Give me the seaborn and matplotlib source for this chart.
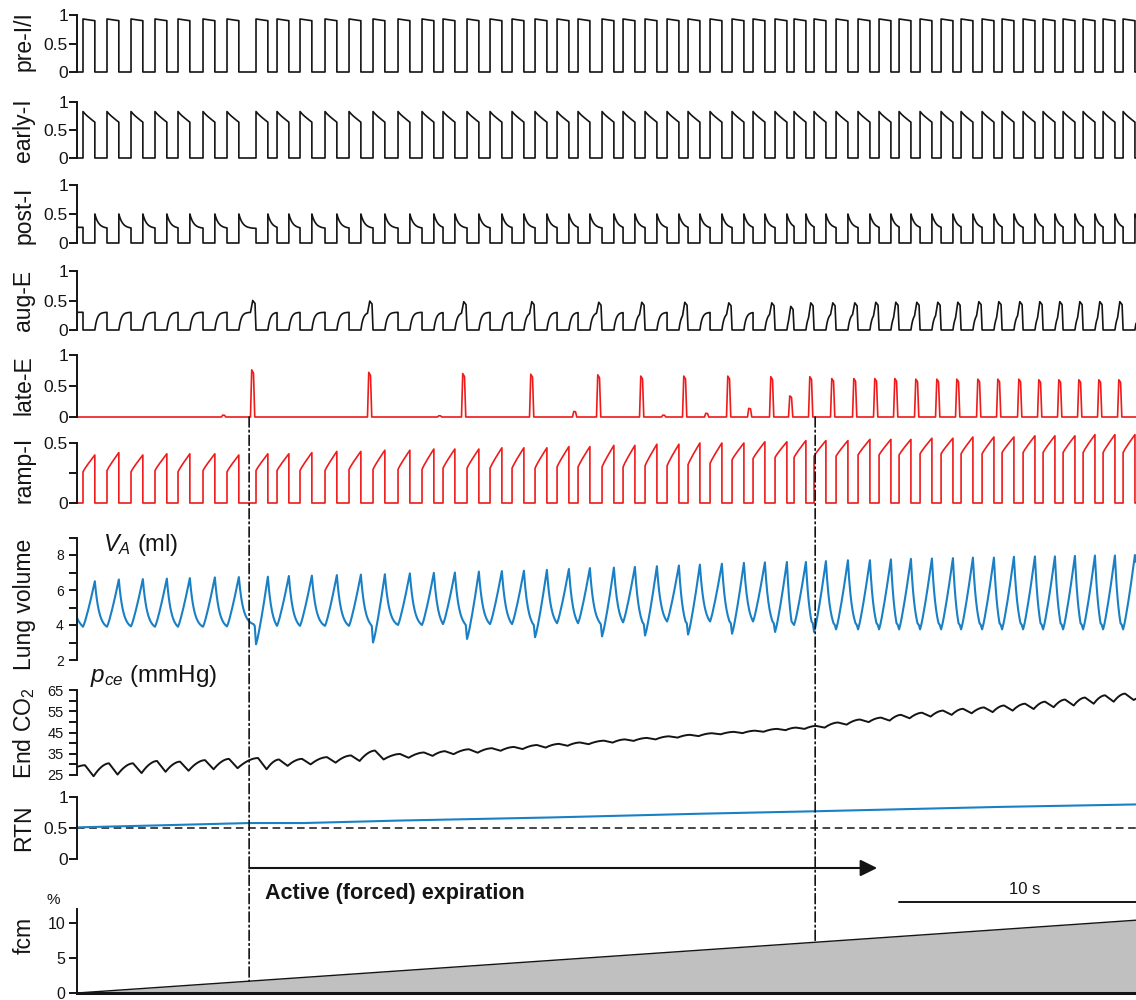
import numpy as np
import matplotlib
matplotlib.use("Agg")
import matplotlib.pyplot as plt
import seaborn as sns
from matplotlib.patches import ConnectionPatch

sns.set_theme(style="white")
plt.rcParams["font.family"] = ["Liberation Sans", "DejaVu Sans"]
plt.rcParams["mathtext.fontset"] = "custom"
plt.rcParams["mathtext.rm"] = "Liberation Sans"
plt.rcParams["mathtext.it"] = "Liberation Sans:italic"
plt.rcParams["mathtext.bf"] = "Liberation Sans:bold"

# ---------------- data (time in s) ----------------
ONSETS = [0.238, 1.190, 2.143, 3.095, 4.008, 5.000, 5.952, 7.103, 7.937, 8.849,
          9.841, 10.794, 11.746, 12.738, 13.690, 14.524, 15.476, 16.389, 17.262, 18.175,
          19.048, 19.881, 20.833, 21.667, 22.540, 23.413, 24.246, 25.119, 25.992, 26.825,
          27.698, 28.452, 29.246, 30.119, 30.992, 31.825, 32.619, 33.452, 34.286, 35.079,
          35.913, 36.706, 37.540, 38.333, 39.127, 39.921, 40.714, 41.508]
TI = 0.47
T_END = 42.02

PRE_I_LEVEL = (0.93, 0.90)
EARLY_I_LEVEL = (0.83, 0.64)
POST_I_LEVEL = (0.50, 0.25)
AUG_E_TOP = 0.30

LATE_E_AMP = [0, 0, 0, 0, 0, 0, 0.03, 0.76, 0, 0,
              0, 0, 0.72, 0, 0, 0.02, 0.70, 0, 0, 0.69,
              0, 0.09, 0.68, 0, 0.66, 0.03, 0.66, 0.06, 0.66, 0.14,
              0.65, 0.34, 0.65, 0.62, 0.62, 0.62, 0.62, 0.61, 0.61, 0.61,
              0.61, 0.61, 0.61, 0.60, 0.60, 0.60, 0.60, 0.60]
AUG_E_BUMP = [0, 0, 0, 0, 0, 0, 0, 0.50, 0, 0,
              0, 0, 0.49, 0, 0, 0, 0.48, 0, 0, 0.48,
              0, 0, 0.47, 0, 0.47, 0, 0.47, 0, 0.46, 0,
              0.46, 0.40, 0.46, 0.46, 0.46, 0.47, 0.47, 0.47, 0.47, 0.47,
              0.48, 0.48, 0.48, 0.48, 0.48, 0.48, 0.48, 0.48]
RAMP_START = [0.26, 0.27, 0.26, 0.27, 0.26, 0.27, 0.26, 0.27, 0.27, 0.27,
              0.27, 0.28, 0.28, 0.28, 0.28, 0.29, 0.29, 0.29, 0.29, 0.29,
              0.30, 0.30, 0.30, 0.30, 0.31, 0.31, 0.32, 0.33, 0.36, 0.37,
              0.38, 0.38, 0.39, 0.39, 0.40, 0.40, 0.40, 0.41, 0.41, 0.41,
              0.41, 0.42, 0.42, 0.42, 0.42, 0.42, 0.42, 0.42]
RAMP_PEAK = [0.40, 0.42, 0.40, 0.41, 0.41, 0.41, 0.40, 0.41, 0.41, 0.42,
             0.43, 0.43, 0.44, 0.44, 0.45, 0.45, 0.45, 0.46, 0.46, 0.46,
             0.47, 0.47, 0.48, 0.48, 0.49, 0.49, 0.50, 0.50, 0.50, 0.51,
             0.51, 0.52, 0.52, 0.52, 0.53, 0.53, 0.53, 0.54, 0.54, 0.55,
             0.55, 0.55, 0.56, 0.56, 0.56, 0.57, 0.57, 0.57]

VA_START = 4.4
VA_PEAK = [6.50, 6.60, 6.62, 6.65, 6.68, 6.72, 6.74, 6.76, 6.80, 6.82,
           6.85, 6.88, 6.90, 6.95, 6.98, 7.00, 7.05, 7.08, 7.10, 7.15,
           7.20, 7.25, 7.28, 7.32, 7.36, 7.40, 7.45, 7.50, 7.55, 7.58,
           7.60, 7.60, 7.65, 7.70, 7.70, 7.75, 7.78, 7.80, 7.82, 7.85,
           7.85, 7.90, 7.92, 7.92, 7.95, 7.97, 7.97, 8.00]
VA_TROUGH = [3.90, 3.90, 3.92, 3.90, 3.90, 3.90, 3.92, 4.05, 3.95, 3.95,
             3.95, 3.95, 4.05, 4.00, 4.00, 4.05, 4.10, 4.05, 4.05, 4.10,
             4.10, 4.10, 4.15, 4.15, 4.15, 4.20, 4.20, 4.20, 4.20, 4.20,
             4.20, 4.20, 4.20, 4.10, 4.10, 4.10, 4.10, 4.10, 4.10, 4.10,
             4.10, 4.10, 4.10, 4.10, 4.10, 4.10, 4.10, 4.10]
VA_DIP = [0, 0, 0, 0, 0, 0, 0, 2.90, 0, 0,
          0, 0, 3.00, 0, 0, 0, 3.20, 0, 0, 3.30,
          0, 0, 3.35, 0, 3.40, 0, 3.45, 0, 3.50, 0,
          3.60, 4.00, 3.60, 3.75, 3.75, 3.75, 3.75, 3.75, 3.75, 3.75,
          3.75, 3.75, 3.75, 3.75, 3.75, 3.75, 3.75, 3.75]

CO2_START = 28.8
CO2_PEAK = [29.6, 30.5, 30.5, 31.6, 31.3, 32.0, 32.6, 33.0, 32.3, 32.6,
            33.4, 34.2, 36.5, 34.9, 35.6, 36.2, 37.1, 37.6, 38.2, 39.1,
            39.65, 40.3, 41.15, 41.75, 42.45, 43.2, 43.9, 44.65, 45.3, 45.85,
            46.7, 47.3, 48.1, 49.7, 51.1, 52.0, 53.3, 54.3, 55.3, 56.15,
            56.8, 57.7, 58.55, 59.5, 60.5, 61.45, 62.5, 63.3]
CO2_TROUGH = [24.4, 25.2, 25.9, 26.5, 27.0, 27.7, 28.2, 27.7, 29.3, 30.0,
              30.8, 31.6, 32.3, 33.1, 34.0, 34.8, 35.5, 36.4, 37.2, 37.9,
              38.75, 39.5, 40.25, 41.05, 41.75, 42.6, 43.3, 44.15, 44.7, 45.35,
              46.1, 46.7, 47.3, 48.7, 49.9, 50.6, 51.7, 52.5, 53.3, 54.05,
              54.6, 55.3, 56.05, 56.9, 57.7, 58.55, 59.5, 60.3]

RTN_T = [0.0, 3.0, 6.83, 9.0, 12.8, 18.8, 24.7, 29.3, 36.6, 42.02]
RTN_V = [0.51, 0.54, 0.58, 0.58, 0.62, 0.67, 0.73, 0.77, 0.84, 0.88]

FCM_T = [0.0, 42.02]
FCM_V = [0.0, 10.4]

FORCED_T = 6.83
MARK2_T = 29.29
ARROW_END_T = 31.75
SCALE_START_T = 32.62
SCALE_LEN = 10.0

# ---------------- colours ----------------
BLACK = "#141414"
RED = "#f01a1a"
BLUE = "#1a80c6"
GREY = "#c0c0c0"

# ---------------- waveform assembly ----------------
N = len(ONSETS)


def next_onset(k):
    return ONSETS[k + 1] if k + 1 < N else T_END


def build_pre_i():
    t, y = [0.0], [0.0]
    for o in ONSETS:
        e = o + TI
        t += [o, o, e, e]
        y += [0.0, PRE_I_LEVEL[0], PRE_I_LEVEL[1], 0.0]
    t.append(T_END); y.append(0.0)
    return t, y


def build_early_i():
    t, y = [0.0], [0.0]
    a, b = EARLY_I_LEVEL
    r = np.linspace(0, 1, 6)
    for o in ONSETS:
        e = o + TI
        t += [o] + list(o + r * TI) + [e]
        y += [0.0] + list(a - (a - b) * r ** 0.85) + [0.0]
    t.append(T_END); y.append(0.0)
    return t, y


def build_post_i():
    a, b = POST_I_LEVEL
    t, y = [0.0, ONSETS[0], ONSETS[0]], [b + 0.02, b + 0.02, 0.0]
    for k, o in enumerate(ONSETS):
        e = o + TI
        nxt = next_onset(k)
        s = np.linspace(e, nxt, 14)
        v = b + (a - b) * np.exp(-(s - e) / 0.15)
        t += [e] + list(s)
        y += [0.0] + list(v)
        if k + 1 < N:
            t.append(nxt); y.append(0.0)
    return t, y


def build_aug_e():
    t, y = [0.0, ONSETS[0], ONSETS[0]], [AUG_E_TOP, AUG_E_TOP, 0.0]
    for k, o in enumerate(ONSETS):
        e = o + TI
        nxt = next_onset(k)
        bump = AUG_E_BUMP[k + 1] if k + 1 < N else 0
        stop = nxt - 0.22 if bump else nxt
        stop = max(stop, e + 0.01)
        s = np.linspace(e, stop, 14)
        v = AUG_E_TOP * (1 - np.exp(-(s - e) / 0.09))
        t += list(s); y += list(v)
        if bump:
            t += [nxt - 0.13, nxt - 0.04]
            y += [bump, bump - 0.05]
        if k + 1 < N:
            t.append(nxt); y.append(0.0)
    return t, y


def build_late_e():
    t, y = [0.0], [0.0]
    for k, o in enumerate(ONSETS):
        a = LATE_E_AMP[k]
        if a > 0:
            t += [o - 0.22, o - 0.17, o - 0.10, o - 0.05]
            y += [0.0, a, a * 0.93, 0.0]
    t.append(T_END); y.append(0.0)
    return t, y


def build_ramp_i():
    t, y = [0.0], [0.0]
    r = np.linspace(0, 1, 8)
    for k, o in enumerate(ONSETS):
        e = o + TI
        t += [o] + list(o + r * TI) + [e]
        y += [0.0] + list(RAMP_START[k] + (RAMP_PEAK[k] - RAMP_START[k]) * r ** 0.9) + [0.0]
    t.append(T_END); y.append(0.0)
    return t, y


def decay(t0, t1, v0, v1, tau, n=14):
    s = np.linspace(t0, t1, n)
    D = t1 - t0
    w = (np.exp(-(s - t0) / tau) - np.exp(-D / tau)) / (1 - np.exp(-D / tau))
    return list(s), list(v1 + (v0 - v1) * w)


def build_va():
    t, y = decay(0.0, ONSETS[0], VA_START, VA_TROUGH[0], 0.3, 6)
    r = np.linspace(0, 1, 10)
    for k, o in enumerate(ONSETS):
        e = o + TI
        start = VA_DIP[k] if VA_DIP[k] else VA_TROUGH[k]
        t += list(o + r * TI)
        y += list(start + (VA_PEAK[k] - start) * r ** 1.2)
        if k + 1 < N:
            nxt = ONSETS[k + 1]
            dip = VA_DIP[k + 1]
            end = nxt - 0.1 if dip else nxt
            s, v = decay(e, end, VA_PEAK[k], VA_TROUGH[k + 1], 0.17)
            t += s[1:]; y += v[1:]
            if dip:
                t += [nxt - 0.05, nxt]
                y += [VA_TROUGH[k + 1] - 0.1, dip]
        else:
            t.append(T_END); y.append(VA_PEAK[k] - 0.4)
    return t, y


def build_co2():
    t, y = [0.0], [CO2_START]
    r = np.linspace(0, 1, 10)[1:]
    for k, o in enumerate(ONSETS):
        tp, tt = o + 0.08, o + 0.42
        t0, y0 = t[-1], y[-1]
        t += list(t0 + r * (tp - t0))
        y += list(y0 + (CO2_PEAK[k] - y0) * (1 - (1 - r) ** 1.8))
        t.append(tt); y.append(CO2_TROUGH[k])
    t0, y0 = t[-1], y[-1]
    t.append(T_END); y.append(y0 + 0.6)
    return t, y


# ---------------- figure layout ----------------
W, H = 1136, 1000
X0 = 77
fig = plt.figure(figsize=(W / 100, H / 100), dpi=100)


def add_panel(top, bot, va, ya, vb, yb):
    ax = fig.add_axes([X0 / W, 1 - bot / H, (W - X0) / W, (bot - top) / H])
    k = (ya - yb) / (vb - va)
    ax.set_ylim(va - (bot - ya) / k, vb + (yb - top) / k)
    ax.set_xlim(0, T_END)
    ax.patch.set_alpha(0)
    for s in ["top", "right", "bottom"]:
        ax.spines[s].set_visible(False)
    ax.spines["left"].set_linewidth(1.4)
    ax.spines["left"].set_color(BLACK)
    ax.set_xticks([])
    ax.grid(False)
    return ax


def style_y(ax, ticks, labels, bounds, size, pad, length=5.5):
    ax.set_yticks(ticks)
    ax.set_yticklabels(labels)
    ax.spines["left"].set_bounds(*bounds)
    ax.tick_params(axis="y", left=True, direction="out", length=length, width=1.4,
                   color=BLACK, labelsize=size, pad=pad, labelcolor=BLACK)


def draw(ax, tr, color, lw):
    t, y = tr
    sns.lineplot(x=np.asarray(t), y=np.asarray(y), ax=ax, estimator=None, sort=False,
                 color=color, linewidth=lw)
    ax.set_xlabel(""); ax.set_ylabel("")


unit = ([0, 0.5, 1], ["0", "0.5", "1"], (0, 1))
panels = {}
panels["pre"] = add_panel(5, 82, 0, 72, 1, 15)
panels["early"] = add_panel(90, 168, 0, 158, 1, 102)
panels["post"] = add_panel(175, 252, 0, 243, 1, 185)
panels["aug"] = add_panel(260, 340, 0, 330, 1, 271)
panels["late"] = add_panel(345, 425, 0, 417, 1, 355)
panels["ramp"] = add_panel(428, 512, 0, 503, 0.5, 443)
panels["va"] = add_panel(530, 668, 2, 660, 8, 555)
panels["co2"] = add_panel(682, 782, 25, 775, 65, 690)
panels["rtn"] = add_panel(790, 865, 0, 859, 1, 797)
panels["fcm"] = add_panel(900, 993, 0, 993, 10, 923)

for key in ["pre", "early", "post", "aug", "late"]:
    style_y(panels[key], *unit, 12.5, 1)
style_y(panels["ramp"], [0, 0.25, 0.5], ["0", "", "0.5"], (0, 0.5), 12.5, 1)
style_y(panels["va"], list(range(2, 10)), ["2", "", "4", "", "6", "", "8", ""], (2, 9), 10, 4)
style_y(panels["co2"], list(range(25, 70, 5)),
        ["25", "", "35", "", "45", "", "55", "", "65"], (25, 65), 10.5, 4)
style_y(panels["rtn"], *unit, 12.5, 1)
style_y(panels["fcm"], [0, 5, 10], ["0", "5", "10"], (0, 12), 11.5, 3)
panels["fcm"].spines["bottom"].set_visible(True)
panels["fcm"].spines["bottom"].set_linewidth(2.2)
panels["fcm"].spines["bottom"].set_color(BLACK)

# traces
draw(panels["pre"], build_pre_i(), BLACK, 1.2)
draw(panels["early"], build_early_i(), BLACK, 1.2)
draw(panels["post"], build_post_i(), BLACK, 1.2)
draw(panels["aug"], build_aug_e(), BLACK, 1.2)
draw(panels["late"], build_late_e(), RED, 1.2)
draw(panels["ramp"], build_ramp_i(), RED, 1.2)
draw(panels["va"], build_va(), BLUE, 1.5)
draw(panels["co2"], build_co2(), BLACK, 1.4)
draw(panels["rtn"], (RTN_T, RTN_V), BLUE, 1.5)
panels["rtn"].axhline(0.5, color=BLACK, lw=1.1, ls=(0, (5, 3)), zorder=1)

fx = panels["fcm"]
fx.fill_between(FCM_T, 0, FCM_V, color=GREY, lw=0, zorder=1)
draw(fx, (FCM_T, FCM_V), BLACK, 1.0)

# dash-dot markers
for tm in [FORCED_T, MARK2_T]:
    fc = float(np.interp(tm, FCM_T, FCM_V))
    con = ConnectionPatch(xyA=(tm, 0), coordsA=panels["late"].transData,
                          xyB=(tm, fc), coordsB=fx.transData,
                          linestyle=(0, (6, 2, 1, 2)), lw=1.2, color=BLACK, zorder=5)
    fig.add_artist(con)

# annotation layer (y in pixels from top)
ann = fig.add_axes([X0 / W, 0, (W - X0) / W, 1])
ann.set_xlim(0, T_END)
ann.set_ylim(H, 0)
ann.axis("off")
ann.patch.set_alpha(0)
ann.annotate("", xy=(ARROW_END_T, 868), xytext=(FORCED_T, 868),
             arrowprops=dict(arrowstyle="-|>,head_length=0.85,head_width=0.42",
                             lw=1.5, color=BLACK, shrinkA=0, shrinkB=0,
                             mutation_scale=12))
ann.text(FORCED_T + 0.63, 893, "Active (forced) expiration", fontsize=15.5,
         fontweight="bold", ha="left", va="center", color=BLACK)
ann.plot([SCALE_START_T, SCALE_START_T + SCALE_LEN], [902, 902], color=BLACK, lw=1.4,
         clip_on=False)
ann.text(SCALE_START_T + SCALE_LEN / 2, 890, "10 s", fontsize=12, ha="center",
         va="center", color=BLACK)

# labels
labels = [("pre-I/I", 41), ("early-I", 130), ("post-I", 215), ("aug-E", 300),
          ("late-E", 385), ("ramp-I", 470), ("Lung volume", 604),
          ("End CO$_2$", 733), ("RTN", 828), ("fcm", 935)]
for txt, yc in labels:
    fig.text(24 / W, 1 - yc / H, txt, rotation=90, ha="center", va="center",
             fontsize=16.5, color=BLACK)
fig.text(103 / W, 1 - 545 / H, "$V_A$ (ml)", fontsize=17, ha="left", va="center",
         color=BLACK)
fig.text(90 / W, 1 - 676 / H, "$p_{ce}$ (mmHg)", fontsize=17.5, ha="left", va="center",
         color=BLACK)
fig.text(53 / W, 1 - 900 / H, "%", fontsize=11, ha="center", va="center", color=BLACK)

fig.savefig("out.png", dpi=100)
